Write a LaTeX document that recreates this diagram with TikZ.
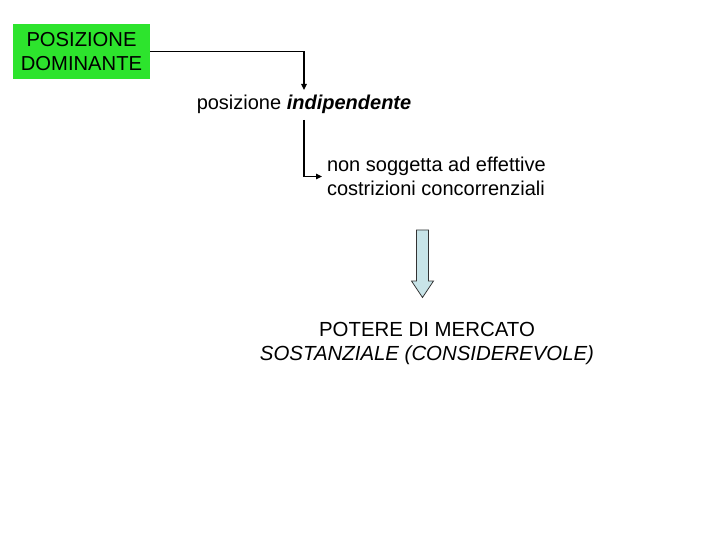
\documentclass[tikz,border=0pt]{standalone}
\usepackage{fontspec}
\setmainfont{Liberation Sans}
\usetikzlibrary{arrows.meta}
\definecolor{boxgreen}{RGB}{45,228,45}
\definecolor{arrowblue}{RGB}{200,228,232}
\tikzset{
  txt/.style={inner sep=0pt, font=\fontsize{20}{24}\selectfont},
  conn/.style={line width=1.2pt, -{Triangle[length=6pt,width=5.5pt]}},
}
\begin{document}
\begin{tikzpicture}[x=1pt,y=-1pt]
\useasboundingbox (0,0) rectangle (720,540);
\node[txt, fill=boxgreen, minimum width=137pt, minimum height=55pt, align=center,
      font=\fontsize{20.2}{24}\selectfont] (dom) at (81.5,51.5) {POSIZIONE\\DOMINANTE};
\node[txt, anchor=base, text height=14pt, text depth=4pt, outer sep=6pt] (pos) at (304,110)
   {posizione \textbf{\textit{indipendente}}};
\node[txt, anchor=west, align=left, outer sep=5pt] (nsg) at (322,176.5)
   {non soggetta ad effettive\\costrizioni concorrenziali};
\node[txt, align=center, font=\fontsize{20.4}{24}\selectfont] (pot) at (427,343)
   {POTERE DI MERCATO\\\textit{SOSTANZIALE (CONSIDEREVOLE)}};
\draw[conn] (dom.east) -| (pos.north);
\draw[conn] (pos.south) |- (nsg.west);
\draw[fill=arrowblue, draw=black!80, line width=0.8pt]
  (416.5,230) -- (428.5,230) -- (428.5,281) -- (433.5,281) -- (422.5,297.5)
  -- (411.5,281) -- (416.5,281) -- cycle;
\end{tikzpicture}
\end{document}
